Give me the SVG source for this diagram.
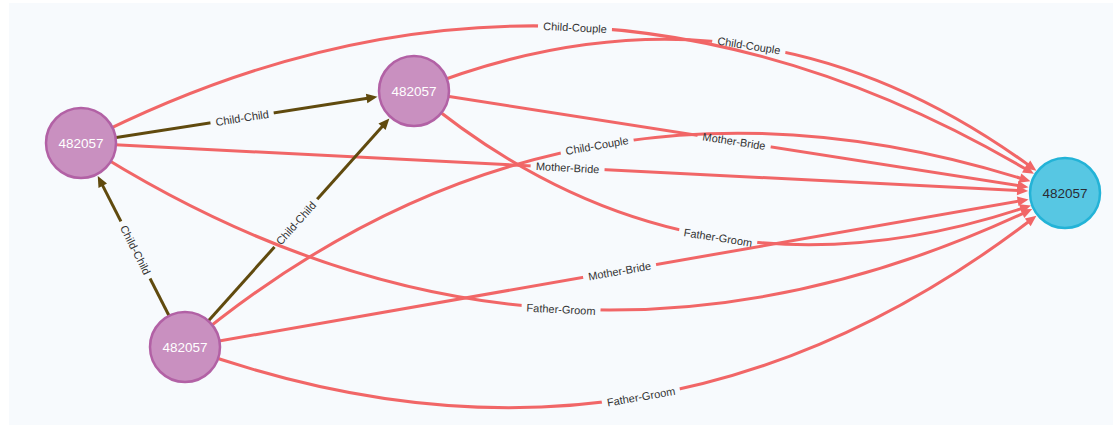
<svg xmlns="http://www.w3.org/2000/svg" width="1113" height="426" viewBox="0 0 1113 426">
<style>
.rel{fill:none;stroke:#F16667;stroke-width:3}
.cc{fill:none;stroke:#604A0E;stroke-width:3}
.lbl text{font-family:"Helvetica Neue",Helvetica,Arial,"Liberation Sans",sans-serif;font-size:11px;fill:#333333;text-anchor:middle}
.node text{font-family:"Helvetica Neue",Helvetica,Arial,"Liberation Sans",sans-serif;font-size:13.5px;text-anchor:middle}
.person circle{fill:#C990C0;stroke:#B261A5;stroke-width:2.5}
.person text{fill:#FFFFFF}
.marriage circle{fill:#57C7E3;stroke:#23B3D7;stroke-width:2.5}
.marriage text{fill:#2A2C34}
.mbg{fill:#FFFFFF}
.gap{fill:#000000}
</style>
<defs>
<marker id="arR" markerUnits="userSpaceOnUse" markerWidth="14" markerHeight="14" viewBox="-2 -7 14 14" refX="0" refY="0" orient="auto"><path d="M-1,-4.8 L10,0 L-1,4.8 Z" fill="#F16667"/></marker>
<marker id="arB" markerUnits="userSpaceOnUse" markerWidth="14" markerHeight="14" viewBox="-2 -7 14 14" refX="0" refY="0" orient="auto"><path d="M-1,-4.8 L10,0 L-1,4.8 Z" fill="#604A0E"/></marker>
<mask id="m1" maskUnits="userSpaceOnUse" x="0" y="0" width="1113" height="426"><rect class="mbg" width="1113" height="426"/><rect class="gap" transform="translate(575,27.5) rotate(2.9)" x="-37" y="-6" width="74" height="12"/></mask>
<mask id="m2" maskUnits="userSpaceOnUse" x="0" y="0" width="1113" height="426"><rect class="mbg" width="1113" height="426"/><rect class="gap" transform="translate(567.6,167.7) rotate(2.9)" x="-37" y="-6" width="74" height="12"/></mask>
<mask id="m3" maskUnits="userSpaceOnUse" x="0" y="0" width="1113" height="426"><rect class="mbg" width="1113" height="426"/><rect class="gap" transform="translate(561,309.3) rotate(2.9)" x="-39.5" y="-6" width="79" height="12"/></mask>
<mask id="m4" maskUnits="userSpaceOnUse" x="0" y="0" width="1113" height="426"><rect class="mbg" width="1113" height="426"/><rect class="gap" transform="translate(749,45.5) rotate(8.9)" x="-37" y="-6" width="74" height="12"/></mask>
<mask id="m5" maskUnits="userSpaceOnUse" x="0" y="0" width="1113" height="426"><rect class="mbg" width="1113" height="426"/><rect class="gap" transform="translate(734.1,141.2) rotate(8.9)" x="-37" y="-6" width="74" height="12"/></mask>
<mask id="m6" maskUnits="userSpaceOnUse" x="0" y="0" width="1113" height="426"><rect class="mbg" width="1113" height="426"/><rect class="gap" transform="translate(718,237.5) rotate(8.9)" x="-39.5" y="-6" width="79" height="12"/></mask>
<mask id="m7" maskUnits="userSpaceOnUse" x="0" y="0" width="1113" height="426"><rect class="mbg" width="1113" height="426"/><rect class="gap" transform="translate(597,145.5) rotate(-9.9)" x="-37" y="-6" width="74" height="12"/></mask>
<mask id="m8" maskUnits="userSpaceOnUse" x="0" y="0" width="1113" height="426"><rect class="mbg" width="1113" height="426"/><rect class="gap" transform="translate(619.6,271) rotate(-9.9)" x="-37" y="-6" width="74" height="12"/></mask>
<mask id="m9" maskUnits="userSpaceOnUse" x="0" y="0" width="1113" height="426"><rect class="mbg" width="1113" height="426"/><rect class="gap" transform="translate(641,396.7) rotate(-9.9)" x="-39.5" y="-6" width="79" height="12"/></mask>
<mask id="m10" maskUnits="userSpaceOnUse" x="0" y="0" width="1113" height="426"><rect class="mbg" width="1113" height="426"/><rect class="gap" transform="translate(242.1,117.9) rotate(-8.9)" x="-32" y="-6" width="64" height="12"/></mask>
<mask id="m11" maskUnits="userSpaceOnUse" x="0" y="0" width="1113" height="426"><rect class="mbg" width="1113" height="426"/><rect class="gap" transform="translate(135.5,249.9) rotate(63)" x="-32" y="-6" width="64" height="12"/></mask>
<mask id="m12" maskUnits="userSpaceOnUse" x="0" y="0" width="1113" height="426"><rect class="mbg" width="1113" height="426"/><rect class="gap" transform="translate(295.9,223.1) rotate(-48.2)" x="-32" y="-6" width="64" height="12"/></mask>
</defs>
<rect x="0" y="0" width="1113" height="426" fill="#FFFFFF"/>
<rect x="9" y="3" width="1104" height="422" fill="#F7FAFD"/>
<g id="connectors">
<g id="edge-lines">
<path class="rel" mask="url(#m1)" marker-end="url(#arR)" d="M81,143 Q560.5,-103.5 1025.3,168.8"/>
<path class="rel" mask="url(#m2)" marker-end="url(#arR)" d="M81,143 L1018.1,190.6"/>
<path class="rel" mask="url(#m3)" marker-end="url(#arR)" d="M81,143 Q539.2,437.3 1023.2,213.3"/>
<path class="rel" mask="url(#m4)" marker-end="url(#arR)" d="M414,91 Q743.2,-41.4 1028.3,164.9"/>
<path class="rel" mask="url(#m5)" marker-end="url(#arR)" d="M414,91 L1018.6,185.7"/>
<path class="rel" mask="url(#m6)" marker-end="url(#arR)" d="M414,91 Q685.1,319.3 1021.5,208.6"/>
<path class="rel" mask="url(#m7)" marker-end="url(#arR)" d="M185,347 Q557.4,34.8 1020.9,178.4"/>
<path class="rel" mask="url(#m8)" marker-end="url(#arR)" d="M185,347 L1018.7,201.1"/>
<path class="rel" mask="url(#m9)" marker-end="url(#arR)" d="M185,347 Q643.2,514.1 1028.5,221.8"/>
<path class="cc" mask="url(#m10)" marker-end="url(#arB)" d="M81,143 L367.6,98.3"/>
<path class="cc" mask="url(#m11)" marker-end="url(#arB)" d="M185,347 L102.3,184.9"/>
<path class="cc" mask="url(#m12)" marker-end="url(#arB)" d="M185,347 L382.7,126.0"/>
</g>
<g id="edge-labels" class="lbl">
<text transform="translate(575,27.5) rotate(2.9)" y="4">Child-Couple</text>
<text transform="translate(567.6,167.7) rotate(2.9)" y="4">Mother-Bride</text>
<text transform="translate(561,309.3) rotate(2.9)" y="4">Father-Groom</text>
<text transform="translate(749,45.5) rotate(8.9)" y="4">Child-Couple</text>
<text transform="translate(734.1,141.2) rotate(8.9)" y="4">Mother-Bride</text>
<text transform="translate(718,237.5) rotate(8.9)" y="4">Father-Groom</text>
<text transform="translate(597,145.5) rotate(-9.9)" y="4">Child-Couple</text>
<text transform="translate(619.6,271) rotate(-9.9)" y="4">Mother-Bride</text>
<text transform="translate(641,396.7) rotate(-9.9)" y="4">Father-Groom</text>
<text transform="translate(242.1,117.9) rotate(-8.9)" y="4">Child-Child</text>
<text transform="translate(135.5,249.9) rotate(63)" y="4">Child-Child</text>
<text transform="translate(295.9,223.1) rotate(-48.2)" y="4">Child-Child</text>
</g>
</g>
<g id="node-a" class="node person"><circle cx="81" cy="143" r="35"/><text x="81" y="148">482057</text></g>
<g id="node-b" class="node person"><circle cx="414" cy="91" r="35"/><text x="414" y="96">482057</text></g>
<g id="node-c" class="node person"><circle cx="185" cy="347" r="35"/><text x="185" y="352">482057</text></g>
<g id="node-d" class="node marriage"><circle cx="1065" cy="193" r="35"/><text x="1065" y="198">482057</text></g>
</svg>
